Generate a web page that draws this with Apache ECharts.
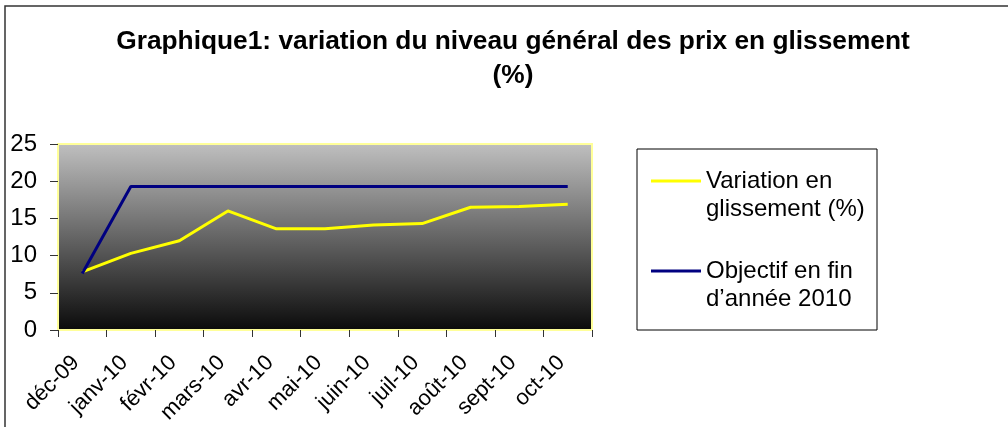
<!DOCTYPE html>
<html>
<head>
<meta charset="utf-8">
<script src="https://cdn.jsdelivr.net/npm/echarts@6/dist/echarts.min.js"></script>
<style>
    html, body { margin: 0; padding: 0; background: #fff; }
    #chart { width: 1008px; height: 427px; }
</style>
</head>
<body>
<div id="chart"></div>
<script>
// données
var months = ['déc-09', 'janv-10', 'févr-10', 'mars-10', 'avr-10', 'mai-10', 'juin-10', 'juil-10', 'août-10', 'sept-10', 'oct-10'];
var variation = [7.8, 10.3, 12.0, 16.0, 13.6, 13.6, 14.1, 14.3, 16.5, 16.6, 16.9];
var objectif = [7.6, 19.3, 19.3, 19.3, 19.3, 19.3, 19.3, 19.3, 19.3, 19.3, 19.3];
var seriesNames = ['Variation en glissement (%)', 'Objectif en fin d\u2019année 2010'];
var legendLines = {
    'Variation en glissement (%)': '\nVariation en\nglissement (%)',
    'Objectif en fin d\u2019année 2010': '\nObjectif en fin\nd\u2019année 2010'
};

var FONT = 'Arial, "Liberation Sans", sans-serif';

var chart = echarts.init(document.getElementById('chart'));

var options = {
    animation: false,
    textStyle: { fontFamily: FONT, color: '#000' },
    title: {
        text: 'Graphique1: variation du niveau général des prix en glissement\n(%)',
        left: 513,
        top: 25,
        textAlign: 'center',
        padding: 0,
        textStyle: { fontFamily: FONT, fontSize: 26.3, fontWeight: 'bold', lineHeight: 34, color: '#000' }
    },
    legend: {
        data: seriesNames,
        orient: 'vertical',
        left: 651,
        top: 139,
        padding: 0,
        itemGap: 6,
        itemWidth: 50,
        itemHeight: 3,
        icon: 'rect',
        selectedMode: false,
        formatter: function (name) { return legendLines[name]; },
        textStyle: { fontFamily: FONT, fontSize: 24, lineHeight: 28, color: '#000' }
    },
    grid: {
        left: 58,
        right: 416,
        top: 144,
        bottom: 97,
        show: true,
        borderColor: '#ffff99',
        borderWidth: 2,
        backgroundColor: new echarts.graphic.LinearGradient(0, 0, 0, 1, [
            { offset: 0, color: '#c0c0c0' },
            { offset: 1, color: '#0a0a0a' }
        ])
    },
    xAxis: {
        type: 'category',
        data: months,
        boundaryGap: true,
        axisLine: { show: false },
        axisTick: { show: true, length: 7, lineStyle: { color: '#333' } },
        axisLabel: { rotate: 45, margin: 23, padding: [0, 9, 0, 0], fontFamily: FONT, fontSize: 22, color: '#000' },
        splitLine: { show: false }
    },
    yAxis: {
        type: 'value',
        min: 0,
        max: 25,
        interval: 5,
        axisLine: { show: false },
        axisTick: { show: true, length: 8, lineStyle: { color: '#333' } },
        axisLabel: { margin: 21, fontFamily: FONT, fontSize: 24, color: '#000' },
        splitLine: { show: false }
    },
    graphic: [
        {
            type: 'polyline',
            shape: { points: [[5, 440], [5, 6], [1020, 6]] },
            style: { fill: null, stroke: '#333', lineWidth: 1.5 },
            silent: true
        },
        {
            type: 'rect',
            shape: { x: 637, y: 149, width: 240, height: 181 },
            style: { fill: 'none', stroke: '#000', lineWidth: 1 },
            silent: true
        }
    ],
    series: [
        {
            name: seriesNames[0],
            type: 'line',
            data: variation,
            showSymbol: false,
            symbol: 'none',
            lineStyle: { color: '#ffff00', width: 3 },
            itemStyle: { color: '#ffff00' }
        },
        {
            name: seriesNames[1],
            type: 'line',
            data: objectif,
            showSymbol: false,
            symbol: 'none',
            lineStyle: { color: '#000080', width: 3 },
            itemStyle: { color: '#000080' }
        }
    ]
};

chart.setOption(options);
window.onresize = function () {
    chart.resize();
};
</script>
</body>
</html>
